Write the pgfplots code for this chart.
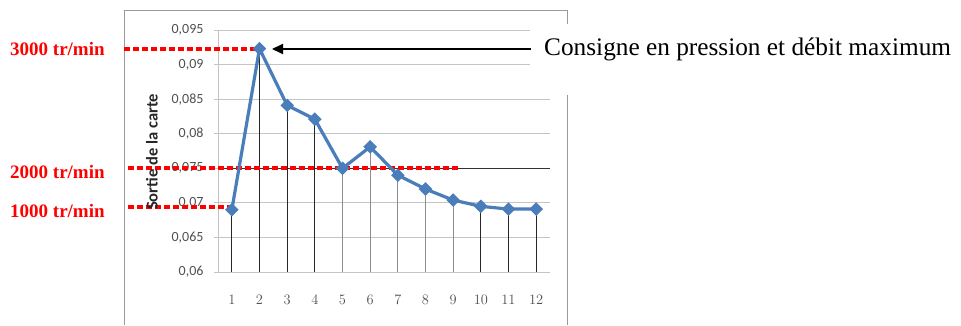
\documentclass[border=0pt]{standalone}
\usepackage{fontspec}
\setmainfont{Liberation Serif}
\newfontfamily\carlito{Carlito}
\usepackage{pgfplots}
\pgfplotsset{compat=1.18}
\usetikzlibrary{arrows.meta}
\definecolor{xlblue}{HTML}{4A7EBB}
\definecolor{framegray}{HTML}{9A9A9A}
\definecolor{gridgray}{HTML}{C4C4C4}
\definecolor{labgray}{HTML}{505050}
\begin{document}
\begin{tikzpicture}[x=1pt,y=1pt]
\useasboundingbox (0,0) rectangle (961,325);
\draw[framegray, line width=1pt] (124,0) -- (124,315) -- (567,315) -- (567,0);
\begin{axis}[
  at={(218pt,53pt)}, anchor=south west, scale only axis,
  width=332pt, height=242pt,
  xmin=0.5, xmax=12.5, ymin=0.06, ymax=0.095,
  scaled y ticks=false,
  axis x line*=bottom, axis y line*=left,
  axis line style={draw=gridgray, line width=1pt, -},
  xtick={1,2,3,4,5,6,7,8,9,10,11,12},
  ytick={0.06,0.065,0.07,0.075,0.08,0.085,0.09,0.095},
  yticklabels={{0,06},{0,065},{0,07},{0,075},{0,08},{0,085},{0,09},{0,095}},
  xticklabel style={font=\fontsize{15}{17}\selectfont, color=labgray, yshift=-16pt},
  yticklabel style={font=\carlito\fontsize{14}{16}\selectfont, color=labgray, xshift=-7pt},
  ymajorgrids, grid style={gridgray, line width=1pt},
  tick align=outside, major tick length=4pt,
  xtick style={draw=none}, ytick style={gridgray, line width=1pt},
  clip mode=individual,
]
\addplot[black!80, line width=1pt] coordinates {(0.5,0.075) (12.5,0.075)};
\addplot[ycomb, black!85, line width=1.2pt] coordinates {(1,0.0690) (2,0.0923) (3,0.0841) (4,0.0821) (10,0.0695) (11,0.0691) (12,0.0691)};
\addplot[ycomb, black!45, line width=1.2pt] coordinates {(5,0.0750) (6,0.0781) (7,0.0740) (8,0.0720) (9,0.0704)};
\draw[red, line width=4.5pt, dash pattern=on 6pt off 3pt] (axis cs:-2.898,0.09225) -- (axis cs:1.95,0.09225);
\draw[red, line width=4.5pt, dash pattern=on 6pt off 3pt] (axis cs:-2.753,0.07504) -- (axis cs:9.21,0.07504);
\draw[red, line width=4.5pt, dash pattern=on 6pt off 3pt] (axis cs:-2.753,0.0694) -- (axis cs:1.11,0.0694);
\addplot[xlblue, line width=3.2pt, mark=square*, mark size=3.2pt, mark options={solid, rotate=45}] coordinates {
(1,0.0690) (2,0.0923) (3,0.0841) (4,0.0821) (5,0.0750) (6,0.0781) (7,0.0740) (8,0.0720) (9,0.0704) (10,0.0695) (11,0.0691) (12,0.0691)};
\end{axis}
\fill[white] (530,230) rectangle (961,301);
\draw[black, line width=2pt, -{Triangle[length=11pt,width=10pt]}] (531,276) -- (272,276);
\node[anchor=west, inner sep=0pt] at (544,276) {\fontsize{25.3}{30}\selectfont Consigne en pression et débit maximum};
\node[anchor=west, inner sep=0pt, text=red, font=\bfseries\fontsize{19}{22}\selectfont] at (10,276) {3000 tr/min};
\node[anchor=west, inner sep=0pt, text=red, font=\bfseries\fontsize{19}{22}\selectfont] at (10,153) {2000 tr/min};
\node[anchor=west, inner sep=0pt, text=red, font=\bfseries\fontsize{19}{22}\selectfont] at (10,114) {1000 tr/min};
\node[rotate=90, inner sep=0pt, text=black!85, font=\carlito\bfseries\fontsize{16.5}{18}\selectfont] at (152,173) {Sortie de la carte};
\end{tikzpicture}
\end{document}
